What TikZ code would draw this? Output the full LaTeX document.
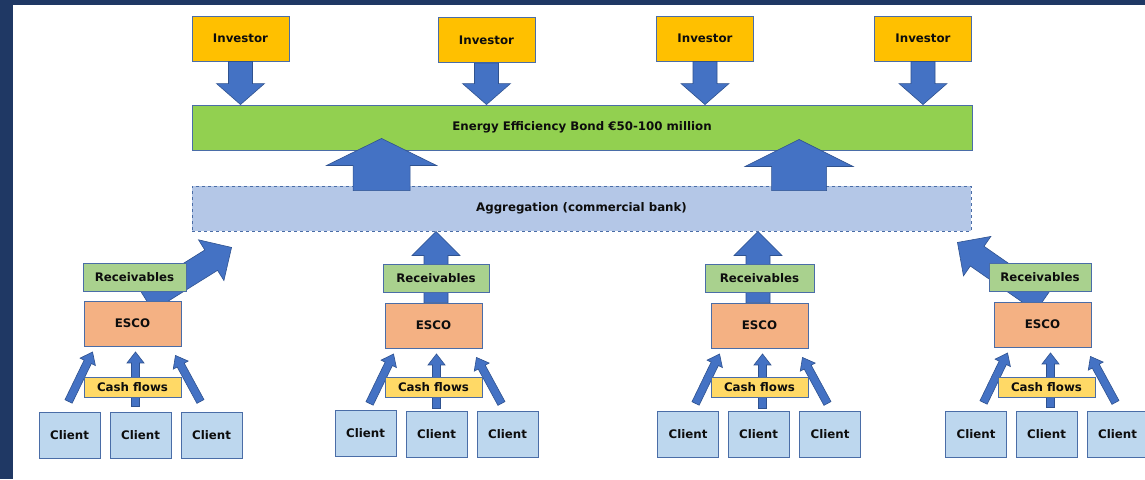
\documentclass[tikz,border=0pt]{standalone}
\usepackage{fontspec}
\setmainfont{DejaVu Sans}
\usetikzlibrary{calc}

\definecolor{frame}{HTML}{1F3864}
\definecolor{edge}{HTML}{4A6DA7}
\definecolor{arrowfill}{HTML}{4472C4}
\definecolor{arrowedge}{HTML}{2F528F}
\definecolor{investorfill}{HTML}{FFC000}
\definecolor{bondfill}{HTML}{92D050}
\definecolor{aggfill}{HTML}{B4C7E7}
\definecolor{recfill}{HTML}{A9D18E}
\definecolor{escofill}{HTML}{F4B183}
\definecolor{cashfill}{HTML}{FFD966}
\definecolor{clientfill}{HTML}{BDD7EE}

\pgfdeclarelayer{bg}
\pgfdeclarelayer{flows}
\pgfsetlayers{bg,flows,main}

% block arrow: #1 tail, #2 tip, #3 shaft half width, #4 head half width, #5 head length
\newcommand{\blockarrow}[5]{%
  \coordinate (ba-t) at (#1);
  \coordinate (ba-h) at (#2);
  \coordinate (ba-b) at ($(ba-h)!#5!(ba-t)$);
  \path[barrow]
    ($(ba-t)!#3!90:(ba-h)$) -- ($(ba-b)!#3!90:(ba-h)$) --
    ($(ba-b)!#4!90:(ba-h)$) -- (ba-h) --
    ($(ba-b)!#4!-90:(ba-h)$) -- ($(ba-b)!#3!-90:(ba-h)$) --
    ($(ba-t)!#3!-90:(ba-h)$) -- cycle;
}

% three thin arrows from the clients up to an ESCO; #2 shifts them sideways
\newcommand{\clientarrows}[2]{%
  \blockarrow{$(#1.south west)+(-15+#2,55)$}{$(#1.south west)+(9+#2,5.5)$}{4pt}{8.5pt}{11pt}
  \blockarrow{$(#1.south)+(3+#2,60)$}{$(#1.south)+(3+#2,5.5)$}{4pt}{8.5pt}{11pt}
  \blockarrow{$(#1.south east)+(19+#2,55)$}{$(#1.south east)+(-6+#2,9)$}{4pt}{8.5pt}{11pt}
}

\begin{document}
\begin{tikzpicture}[x=1pt,y=-1pt,
  barrow/.style={fill=arrowfill,draw=arrowedge,line width=0.6pt,line join=miter},
  box/.style={draw=edge,line width=0.9pt,inner sep=0pt,align=center,
    font=\fontsize{11.8}{14}\selectfont\bfseries,text=black!95},
  investor/.style={box,fill=investorfill,minimum width=97pt,minimum height=45pt},
  bond/.style={box,fill=bondfill,minimum width=780pt,minimum height=45pt},
  agg/.style={box,fill=aggfill,dashed,minimum width=779pt,minimum height=45pt},
  rec/.style={box,fill=recfill,minimum height=28pt},
  esco/.style={box,fill=escofill,minimum width=97pt,minimum height=45pt},
  cash/.style={box,fill=cashfill,minimum width=97pt,minimum height=20pt},
  client/.style={box,fill=clientfill,minimum width=61pt,minimum height=46pt}]

\useasboundingbox (0,0) rectangle (1145,479);
% slide frame
\begin{pgfonlayer}{bg}
\fill[frame] (0,0) rectangle (1145,479);
\fill[white] (13,5) rectangle (1145,479);
\end{pgfonlayer}

% investors and bond
\node[investor] (inv1) at (240.5,38.5) {Investor};
\node[investor] (inv2) at (486.5,40) {Investor};
\node[investor] (inv3) at (705,38.5) {Investor};
\node[investor] (inv4) at (923,38.5) {Investor};
\node[bond] (bond) at (582,127.5) {Energy Efficiency Bond €50-100 million};
\node[agg] (agg) at (581.5,208.5) {Aggregation (commercial bank)};

\foreach \i in {1,...,4}{
  \blockarrow{inv\i.south}{inv\i.south |- bond.north}{12pt}{24pt}{21pt}
}

% aggregation into the bond
\blockarrow{$(agg.north west)+(190,5)$}{$(bond.south west)+(190,-12)$}{28.5pt}{55pt}{27pt}
\blockarrow{$(agg.north west)+(607.5,5)$}{$(bond.south west)+(607.5,-11)$}{27.5pt}{54pt}{27pt}

% ESCOs
\node[esco] (esco1) at (132.5,323.5) {ESCO};
\node[esco] (esco2) at (433.5,325.5) {ESCO};
\node[esco] (esco3) at (759.5,325.5) {ESCO};
\node[esco] (esco4) at (1042.5,324.5) {ESCO};

\begin{pgfonlayer}{flows}
% receivables into the aggregation
\blockarrow{$(esco1.north)+(14,0)$}{$(agg.south west)+(40,16)$}{12pt}{24pt}{24pt}
\blockarrow{$(esco2.north)+(2.5,0)$}{$(esco2.north |- agg.south)+(2.5,0)$}{12pt}{24pt}{24pt}
\blockarrow{$(esco3.north)+(-1.5,0)$}{$(esco3.north |- agg.south)+(-1.5,0)$}{12pt}{24pt}{24pt}
\blockarrow{esco4.north}{$(agg.south east)+(-14,11)$}{12pt}{24pt}{24pt}
% cash flows from the clients
\clientarrows{esco1}{0}
\clientarrows{esco2}{0}
\clientarrows{esco3}{0}
\clientarrows{esco4}{5}
\end{pgfonlayer}

\node[rec,minimum width=103pt] (rec1) at (134.5,277.5) {Receivables};
\node[rec,minimum width=106pt] (rec2) at (436,278.5) {Receivables};
\node[rec,minimum width=109pt] (rec3) at (759.5,278) {Receivables};
\node[rec,minimum width=102pt] (rec4) at (1040,277.5) {Receivables};

\node[cash] (cash1) at (132.5,387) {Cash flows};
\node[cash] (cash2) at (433.5,387) {Cash flows};
\node[cash] (cash3) at (759.5,387) {Cash flows};
\node[cash] (cash4) at (1046.5,387) {Cash flows};

\node[client] (c11) at (69.5,435) {Client};
\node[client] (c12) at (140.5,435) {Client};
\node[client] (c13) at (211.5,435) {Client};
\node[client] (c21) at (365.5,433) {Client};
\node[client] (c22) at (436.5,434.5) {Client};
\node[client] (c23) at (507.5,434.5) {Client};
\node[client] (c31) at (688,434.5) {Client};
\node[client] (c32) at (758.5,434.5) {Client};
\node[client] (c33) at (830,434.5) {Client};
\node[client] (c41) at (976,434) {Client};
\node[client] (c42) at (1046.5,434) {Client};
\node[client] (c43) at (1117.5,434) {Client};
\end{tikzpicture}
\end{document}
